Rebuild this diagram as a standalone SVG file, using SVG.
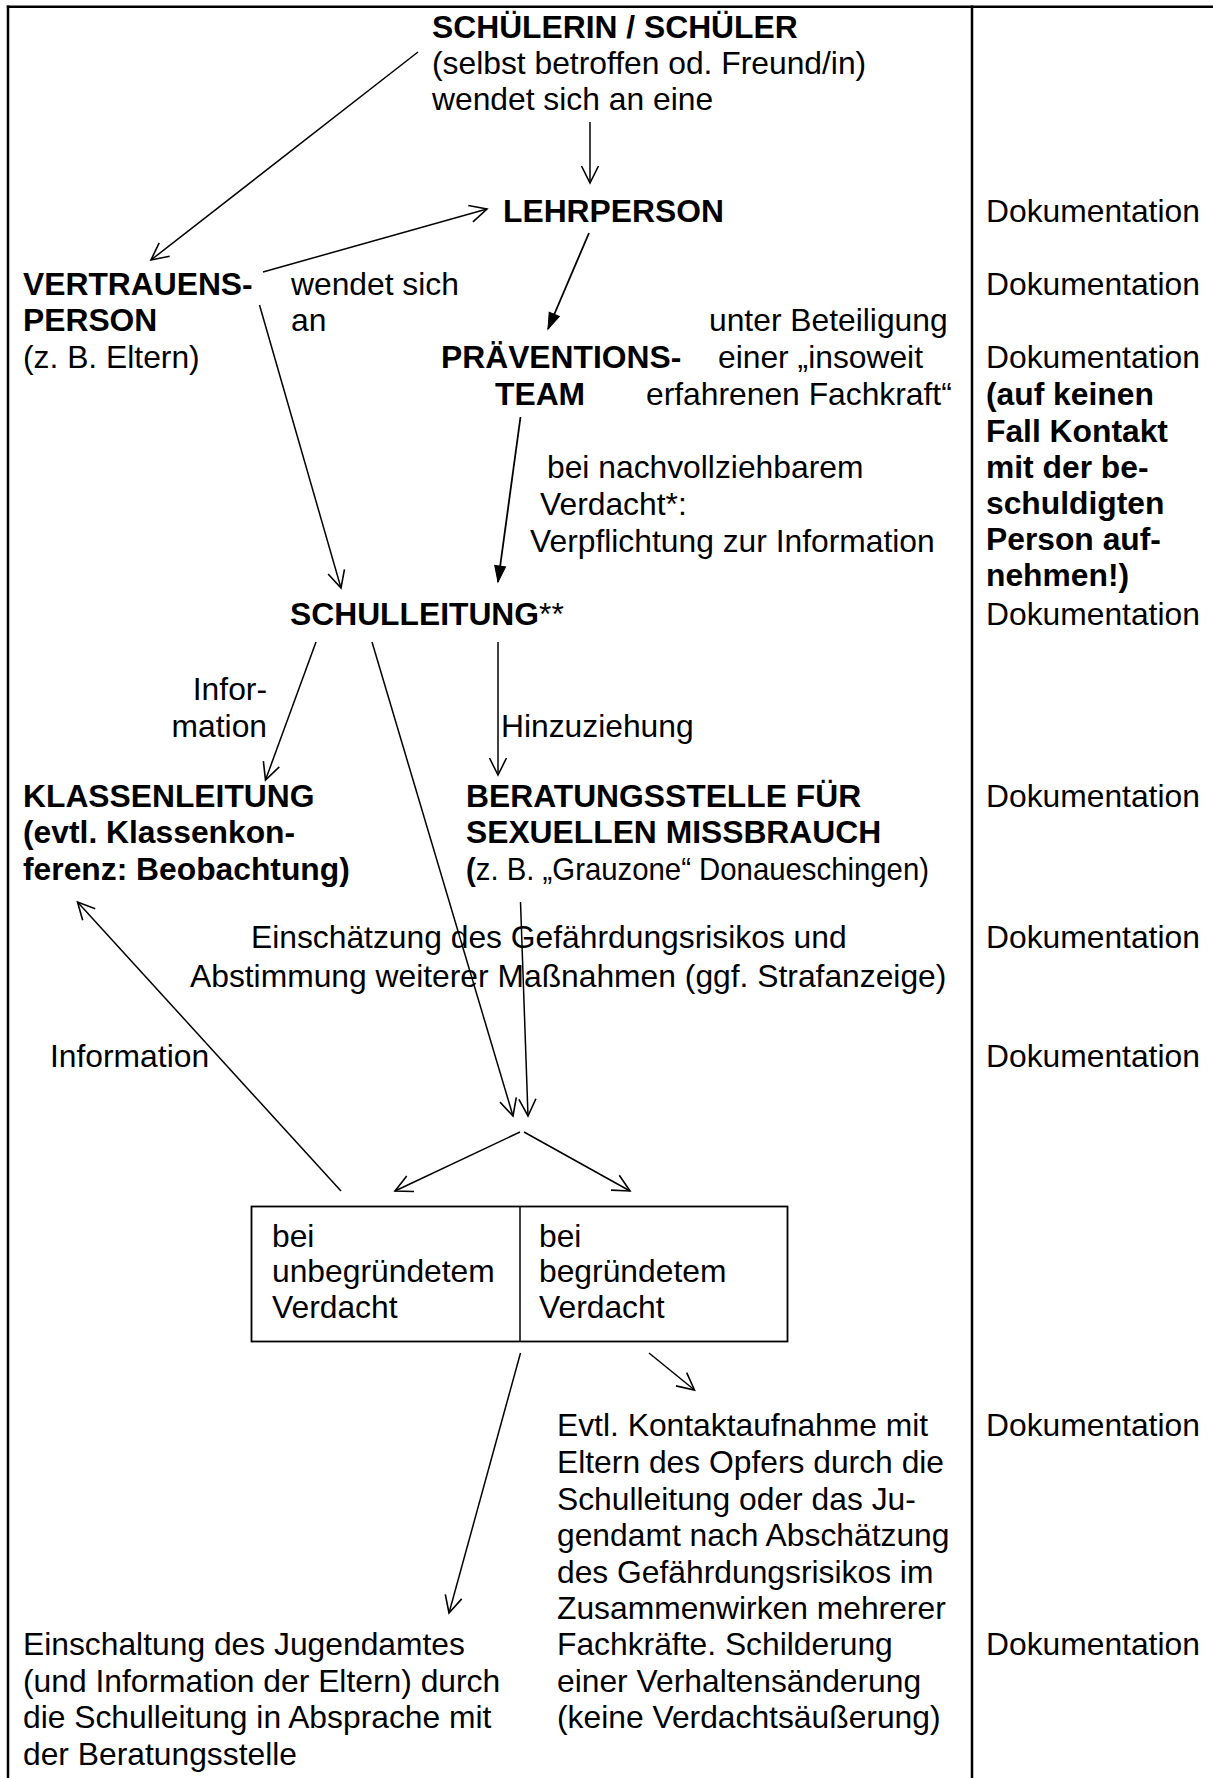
<svg xmlns="http://www.w3.org/2000/svg" width="1213" height="1778" viewBox="0 0 1213 1778">
<defs>
<style>
text{font-family:"Liberation Sans",Arial,sans-serif;font-size:31.8px;fill:#000}
.b{font-weight:bold}
.frame{stroke:#000;stroke-width:2.5;fill:none}
.c{stroke:#000;stroke-width:1.5;fill:none}
.cf{stroke:#000;stroke-width:1.8;fill:none}
</style>
<marker id="open" markerUnits="userSpaceOnUse" markerWidth="24" markerHeight="24" viewBox="-20 -12 24 24" refX="0" refY="0" orient="auto">
<path d="M-17,-8.5 L0,0 L-17,8.5" fill="none" stroke="#000" stroke-width="1.6"/>
</marker>
<marker id="fill" markerUnits="userSpaceOnUse" markerWidth="24" markerHeight="24" viewBox="-20 -12 24 24" refX="0" refY="0" orient="auto">
<path d="M-16,-5.5 L0,0 L-16,5.5 Z" fill="#000" stroke="#000" stroke-width="1"/>
</marker>
</defs>
<rect width="1213" height="1778" fill="#fff"/>
<g id="frame">
<line class="frame" x1="6.8" y1="6.7" x2="1213" y2="6.7"/>
<line class="frame" x1="8" y1="5.5" x2="8" y2="1778"/>
<line class="frame" x1="972" y1="5.5" x2="972" y2="1778"/>
</g>
<g id="connectors">
<line class="c" x1="418" y1="52" x2="151" y2="260" marker-end="url(#open)"/>
<line class="c" x1="590" y1="122" x2="590" y2="183" marker-end="url(#open)"/>
<line class="c" x1="263" y1="272" x2="487" y2="209" marker-end="url(#open)"/>
<line class="cf" x1="589" y1="233" x2="548" y2="329" marker-end="url(#fill)"/>
<line class="c" x1="259.5" y1="305" x2="341" y2="588" marker-end="url(#open)"/>
<line class="cf" x1="520.5" y1="417" x2="498" y2="582" marker-end="url(#fill)"/>
<line class="c" x1="316" y1="642" x2="265.5" y2="780" marker-end="url(#open)"/>
<line class="c" x1="372" y1="642" x2="513" y2="1116" marker-end="url(#open)"/>
<line class="c" x1="498" y1="642" x2="498" y2="775" marker-end="url(#open)"/>
<line class="c" x1="520.5" y1="902" x2="528" y2="1116" marker-end="url(#open)"/>
<line class="c" x1="341" y1="1191" x2="77.5" y2="902" marker-end="url(#open)"/>
<line class="c" x1="520" y1="1132" x2="395" y2="1191" marker-end="url(#open)"/>
<line class="c" x1="524" y1="1132" x2="630" y2="1191" marker-end="url(#open)"/>
<line class="c" x1="520.5" y1="1353" x2="449" y2="1613" marker-end="url(#open)"/>
<line class="c" x1="649" y1="1353" x2="694.5" y2="1390" marker-end="url(#open)"/>
</g>
<g id="schueler">
<text class="b" x="432" y="38">SCHÜLERIN / SCHÜLER</text>
<text x="432" y="74">(selbst betroffen od. Freund/in)</text>
<text x="432" y="110">wendet sich an eine</text>
</g>
<g id="lehrperson">
<text class="b" x="503" y="222">LEHRPERSON</text>
</g>
<g id="vertrauensperson">
<text class="b" x="23" y="295">VERTRAUENS-</text>
<text class="b" x="23" y="331">PERSON</text>
<text x="23" y="368">(z. B. Eltern)</text>
</g>
<g id="label-wendet">
<text x="291" y="295">wendet sich</text>
<text x="291" y="331">an</text>
</g>
<g id="praeventionsteam">
<text class="b" x="441" y="368">PRÄVENTIONS-</text>
<text class="b" x="495" y="405">TEAM</text>
</g>
<g id="label-beteiligung">
<text x="709" y="331">unter Beteiligung</text>
<text x="718" y="368">einer „insoweit</text>
<text x="646" y="405">erfahrenen Fachkraft“</text>
</g>
<g id="label-verdacht">
<text x="547" y="478">bei nachvollziehbarem</text>
<text x="540" y="515">Verdacht*:</text>
<text x="530" y="552">Verpflichtung zur Information</text>
</g>
<g id="schulleitung">
<text x="290" y="625"><tspan class="b">SCHULLEITUNG</tspan>**</text>
</g>
<g id="label-information1">
<text x="267" y="700" text-anchor="end">Infor-</text>
<text x="267" y="737" text-anchor="end">mation</text>
</g>
<g id="label-hinzuziehung">
<text x="501" y="737">Hinzuziehung</text>
</g>
<g id="klassenleitung">
<text class="b" x="23" y="807">KLASSENLEITUNG</text>
<text class="b" x="23" y="843">(evtl. Klassenkon-</text>
<text class="b" x="23" y="880">ferenz: Beobachtung)</text>
</g>
<g id="beratungsstelle">
<text class="b" x="466" y="807">BERATUNGSSTELLE FÜR</text>
<text class="b" x="466" y="843">SEXUELLEN MISSBRAUCH</text>
<text x="466" y="880" textLength="463" lengthAdjust="spacingAndGlyphs"><tspan class="b">(</tspan>z. B. „Grauzone“ Donaueschingen)</text>
</g>
<g id="einschaetzung">
<text x="251" y="948">Einschätzung des Gefährdungsrisikos und</text>
<text x="190" y="987">Abstimmung weiterer Maßnahmen (ggf. Strafanzeige)</text>
</g>
<g id="label-information2">
<text x="50" y="1067">Information</text>
</g>
<g id="verdacht-box">
<rect x="251.5" y="1206.5" width="536" height="135" fill="none" stroke="#000" stroke-width="1.8"/>
<line x1="520" y1="1206.5" x2="520" y2="1341.5" stroke="#000" stroke-width="1.5"/>
<text x="272" y="1247">bei</text>
<text x="272" y="1282">unbegründetem</text>
<text x="272" y="1318">Verdacht</text>
<text x="539" y="1247">bei</text>
<text x="539" y="1282">begründetem</text>
<text x="539" y="1318">Verdacht</text>
</g>
<g id="kontaktaufnahme">
<text x="557" y="1436">Evtl. Kontaktaufnahme mit</text>
<text x="557" y="1473">Eltern des Opfers durch die</text>
<text x="557" y="1510">Schulleitung oder das Ju-</text>
<text x="557" y="1546">gendamt nach Abschätzung</text>
<text x="557" y="1583">des Gefährdungsrisikos im</text>
<text x="557" y="1619">Zusammenwirken mehrerer</text>
<text x="557" y="1655">Fachkräfte. Schilderung</text>
<text x="557" y="1692">einer Verhaltensänderung</text>
<text x="557" y="1728">(keine Verdachtsäußerung)</text>
</g>
<g id="jugendamt">
<text x="23" y="1655">Einschaltung des Jugendamtes</text>
<text x="23" y="1692">(und Information der Eltern) durch</text>
<text x="23" y="1728">die Schulleitung in Absprache mit</text>
<text x="23" y="1765">der Beratungsstelle</text>
</g>
<g id="dokumentation">
<text x="986" y="222">Dokumentation</text>
<text x="986" y="295">Dokumentation</text>
<text x="986" y="368">Dokumentation</text>
<text class="b" x="986" y="405">(auf keinen</text>
<text class="b" x="986" y="442">Fall Kontakt</text>
<text class="b" x="986" y="478">mit der be-</text>
<text class="b" x="986" y="514">schuldigten</text>
<text class="b" x="986" y="550">Person auf-</text>
<text class="b" x="986" y="586">nehmen!)</text>
<text x="986" y="625">Dokumentation</text>
<text x="986" y="807">Dokumentation</text>
<text x="986" y="948">Dokumentation</text>
<text x="986" y="1067">Dokumentation</text>
<text x="986" y="1436">Dokumentation</text>
<text x="986" y="1655">Dokumentation</text>
</g>
</svg>
